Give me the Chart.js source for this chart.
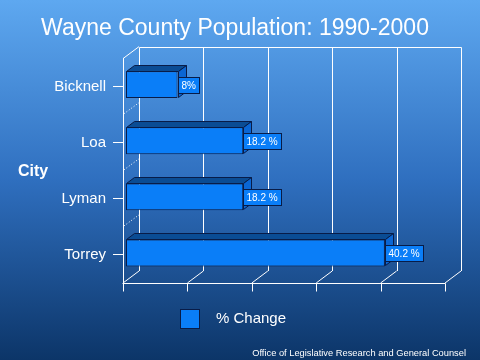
<!DOCTYPE html>
<html>
<head>
<meta charset="utf-8">
<script src="https://cdn.jsdelivr.net/npm/chart.js@4/dist/chart.umd.min.js"></script>
<style>
html,body{margin:0;padding:0;background:#2f6fbf;}
canvas{display:block;}
</style>
</head>
<body>
<canvas id="c" width="480" height="360"></canvas>
<script>
const titleText = 'Wayne County Population: 1990-2000';
const categories = ['Bicknell', 'Loa', 'Lyman', 'Torrey'];
const pctChange = [8, 18.2, 18.2, 40.2];
const valueLabels = ['8%', '18.2 %', '18.2 %', '40.2 %'];
const gridValues = [0, 10, 20, 30, 40, 50];
const seriesName = '% Change';
const axisTitle = 'City';
const footerText = 'Office of Legislative Research and General Counsel';

const FONT = '"Liberation Sans", Arial, sans-serif';
const WALL = {dx: 16, dy: -12};
const BAR3D = {dx: 8, dy: -6};
const SHIFT = {x: 3, y: -2};
const EDGE = '#081c48';

function crisp(v){ return Math.round(v) + 0.5; }

const plugin3d = {
  id: 'plugin3d',
  beforeDraw(chart){
    const {ctx, width, height} = chart;
    const g = ctx.createLinearGradient(0, 0, 0, height);
    g.addColorStop(0, '#5ea8f0');
    g.addColorStop(0.5, '#2f6fbf');
    g.addColorStop(1, '#0c3568');
    ctx.save();
    ctx.fillStyle = g;
    ctx.fillRect(0, 0, width, height);
    ctx.restore();
  },
  beforeDatasetsDraw(chart){
    const {ctx, chartArea} = chart;
    const xs = chart.scales.x, ys = chart.scales.y;
    const top = chartArea.top, bottom = chartArea.bottom;
    ctx.save();
    ctx.strokeStyle = '#ffffff';
    ctx.lineWidth = 1;
    gridValues.forEach(v => {
      const px = crisp(xs.getPixelForValue(v) + WALL.dx);
      ctx.beginPath();
      ctx.moveTo(px, Math.round(top + WALL.dy) + 0.5);
      ctx.lineTo(px, Math.round(bottom + WALL.dy));
      ctx.stroke();
    });
    const x0 = xs.getPixelForValue(gridValues[0]);
    const xN = xs.getPixelForValue(gridValues[gridValues.length - 1]);
    ctx.beginPath();
    ctx.moveTo(crisp(x0 + WALL.dx), crisp(top + WALL.dy));
    ctx.lineTo(crisp(xN + WALL.dx), crisp(top + WALL.dy));
    ctx.stroke();
    ctx.beginPath();
    ctx.moveTo(x0, top);
    ctx.lineTo(x0 + WALL.dx, top + WALL.dy);
    ctx.stroke();
    ctx.beginPath();
    ctx.moveTo(crisp(x0) - 1, crisp(bottom));
    ctx.lineTo(crisp(xN), crisp(bottom));
    ctx.stroke();
    gridValues.forEach(v => {
      const px = xs.getPixelForValue(v);
      ctx.beginPath();
      ctx.moveTo(crisp(px), crisp(bottom));
      ctx.lineTo(crisp(px), crisp(bottom) + 8);
      ctx.stroke();
      ctx.beginPath();
      ctx.moveTo(px, bottom);
      ctx.lineTo(px + WALL.dx, bottom + WALL.dy);
      ctx.stroke();
    });
    ctx.setLineDash([1, 2]);
    for (let i = 0; i < categories.length - 1; i++) {
      const yb = (ys.getPixelForValue(i) + ys.getPixelForValue(i + 1)) / 2;
      ctx.beginPath();
      ctx.moveTo(x0 + 1, yb - 1);
      ctx.lineTo(x0 + WALL.dx, yb + WALL.dy);
      ctx.stroke();
    }
    ctx.restore();
    ctx.save();
    ctx.translate(SHIFT.x, SHIFT.y);
  },
  afterDatasetsDraw(chart){
    const {ctx} = chart;
    const meta = chart.getDatasetMeta(0);
    ctx.lineWidth = 1;
    ctx.strokeStyle = EDGE;
    meta.data.forEach((bar, i) => {
      const x1 = Math.round(bar.x) + 0.5, xb = Math.round(bar.base) + 0.5;
      const t = Math.round(bar.y - bar.height / 2) + 0.5;
      const b = Math.round(bar.y + bar.height / 2) - 0.5;
      ctx.beginPath();
      ctx.moveTo(xb, t);
      ctx.lineTo(xb + BAR3D.dx, t + BAR3D.dy);
      ctx.lineTo(x1 + BAR3D.dx, t + BAR3D.dy);
      ctx.lineTo(x1, t);
      ctx.closePath();
      ctx.fillStyle = '#0a4c94';
      ctx.fill();
      ctx.stroke();
      ctx.beginPath();
      ctx.moveTo(x1, t);
      ctx.lineTo(x1 + BAR3D.dx, t + BAR3D.dy);
      ctx.lineTo(x1 + BAR3D.dx, b + BAR3D.dy);
      ctx.lineTo(x1, b);
      ctx.closePath();
      ctx.fillStyle = '#0a66d4';
      ctx.fill();
      ctx.stroke();
    });
    ctx.font = '10px ' + FONT;
    ctx.textBaseline = 'middle';
    ctx.textAlign = 'left';
    meta.data.forEach((bar, i) => {
      const txt = valueLabels[i];
      const w = Math.ceil(ctx.measureText(txt).width) + 6;
      const bx = Math.round(bar.x) + 0.5;
      const by = Math.round(bar.y - 8) + 0.5;
      ctx.fillStyle = '#0a7ef8';
      ctx.fillRect(bx, by, w, 16);
      ctx.strokeStyle = EDGE;
      ctx.strokeRect(bx, by, w, 16);
      ctx.fillStyle = '#ffffff';
      ctx.fillText(txt, bx + 3, by + 8.5);
    });
    ctx.restore();
  },
  afterDraw(chart){
    const {ctx} = chart;
    const ds = chart.data.datasets[0];
    ctx.save();
    ctx.fillStyle = '#ffffff';
    ctx.textBaseline = 'middle';
    ctx.textAlign = 'left';
    ctx.font = 'bold 16px ' + FONT;
    ctx.fillText(axisTitle, 18, 172);
    ctx.fillStyle = ds.backgroundColor;
    ctx.fillRect(180.5, 309.5, 19, 19);
    ctx.strokeStyle = EDGE;
    ctx.lineWidth = 1;
    ctx.strokeRect(180.5, 309.5, 19, 19);
    ctx.fillStyle = '#ffffff';
    ctx.font = '15px ' + FONT;
    ctx.fillText(ds.label, 216, 319);
    ctx.font = '9.3px ' + FONT;
    ctx.textAlign = 'right';
    ctx.fillText(footerText, 466, 353);
    ctx.restore();
  }
};

new Chart(document.getElementById('c'), {
  type: 'bar',
  data: {
    labels: categories,
    datasets: [{
      label: seriesName,
      data: pctChange,
      backgroundColor: '#0a7ef8',
      borderColor: EDGE,
      borderWidth: 1,
      borderSkipped: false,
      barPercentage: 0.48,
      categoryPercentage: 1
    }]
  },
  options: {
    indexAxis: 'y',
    responsive: false,
    animation: false,
    devicePixelRatio: 1,
    layout: {padding: {left: 25, right: 35, top: 0, bottom: 77}},
    plugins: {
      legend: {display: false},
      tooltip: {enabled: false},
      title: {
        display: true,
        text: titleText,
        color: '#ffffff',
        font: {family: FONT, size: 23, weight: 'normal'},
        padding: {top: 15, bottom: 16}
      }
    },
    scales: {
      x: {display: false, min: 0, max: 50},
      y: {
        ticks: {color: '#ffffff', font: {family: FONT, size: 15}, padding: 7},
        grid: {drawOnChartArea: false, offset: false, color: '#ffffff', tickLength: 10},
        border: {color: '#ffffff'},
        afterFit(s){ s.width = 98; }
      }
    }
  },
  plugins: [plugin3d]
});
</script>
</body>
</html>
